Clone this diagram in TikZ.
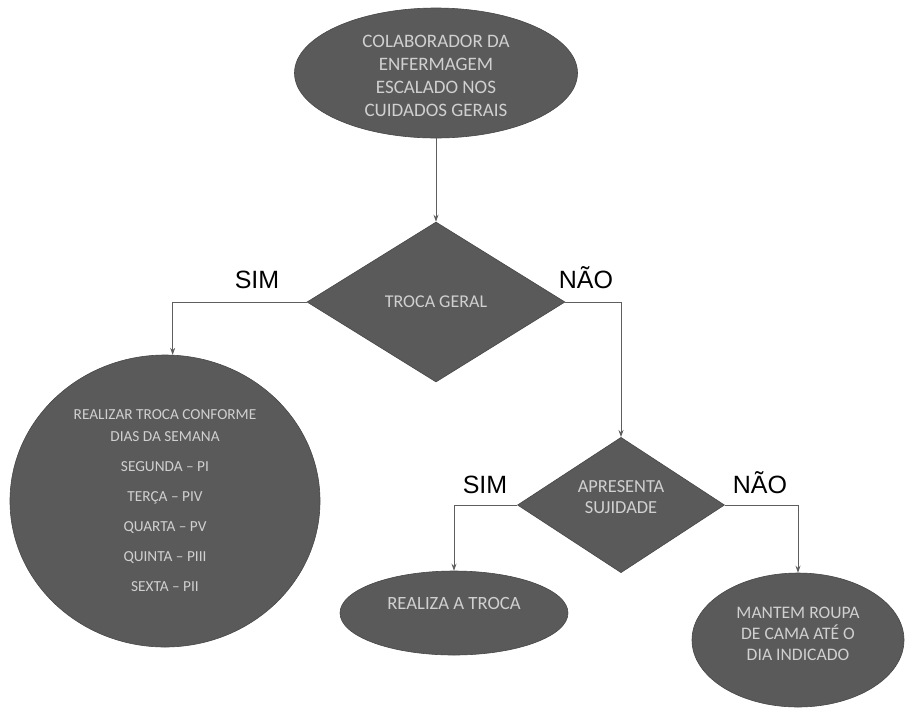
\documentclass[tikz,border=0pt]{standalone}
\usepackage{fontspec}
\setmainfont{Liberation Sans}
\newfontfamily\calib{Carlito}
\usetikzlibrary{shapes.geometric,arrows.meta}
\definecolor{shapefill}{HTML}{5A5A5A}
\definecolor{shapeedge}{HTML}{474747}
\definecolor{shapetext}{HTML}{D0D0D0}
\definecolor{linecol}{HTML}{5E5E5E}
\begin{document}
\begin{tikzpicture}[x=1pt,y=-1pt,
  shapebox/.style={fill=shapefill,draw=shapeedge,line width=0.6pt,text=shapetext,align=center,inner sep=0pt},
  ovalbox/.style={shapebox,ellipse},
  decbox/.style={shapebox,diamond},
  flow/.style={draw=linecol,line width=0.9pt,-{Stealth[length=7pt,width=5pt]}},
  answer/.style={font=\fontsize{25}{28}\selectfont,text=black,inner sep=0pt,anchor=base}
]
\useasboundingbox[fill=white] (0,0) rectangle (905,716);

\node[ovalbox,minimum width=283pt,minimum height=130pt,font=\calib\fontsize{19}{23}\selectfont] (top) at (436,73)
  {~\\[-5pt]COLABORADOR DA\\ENFERMAGEM\\ESCALADO NOS\\CUIDADOS GERAIS};

\node[decbox,minimum width=258pt,minimum height=160pt,font=\calib\fontsize{18}{21}\selectfont] (d1) at (436,302)
  {TROCA GERAL};

\node[ovalbox,minimum width=310pt,minimum height=292pt,font=\calib\fontsize{15.3}{22}\selectfont] (circ) at (165,501)
  {REALIZAR TROCA CONFORME\\DIAS DA SEMANA\\[8pt]SEGUNDA – PI\\[8pt]TERÇA – PIV\\[8pt]QUARTA – PV\\[8pt]QUINTA – PIII\\[8pt]SEXTA – PII};

\node[decbox,minimum width=207pt,minimum height=130pt,font=\calib\fontsize{18.4}{21}\selectfont] (d2) at (621,505)
  {APRESENTA\\SUJIDADE\\[-5pt]~};

\node[ovalbox,minimum width=228pt,minimum height=84pt,font=\calib\fontsize{18.7}{22}\selectfont] (troca) at (454,613)
  {REALIZA A TROCA\\[-2pt]~};

\node[ovalbox,minimum width=212pt,minimum height=134pt,font=\calib\fontsize{17.6}{21}\selectfont] (mant) at (798,640)
  {MANTEM ROUPA\\DE CAMA ATÉ O\\DIA INDICADO\\[-8pt]~};

\draw[flow] (top.south) -- (d1.north);
\draw[flow] (d1.west) -| (circ.87);
\draw[flow] (d1.east) -| (d2.north);
\draw[flow] (d2.west) -| (troca.north);
\draw[flow] (d2.east) -| (mant.north);

\node[answer] (sim1) at (257,288) {SIM};
\node[answer] (nao1) at (586,288) {NÃO};
\node[answer] (sim2) at (485,493) {SIM};
\node[answer] (nao2) at (760,493) {NÃO};
\end{tikzpicture}
\end{document}
